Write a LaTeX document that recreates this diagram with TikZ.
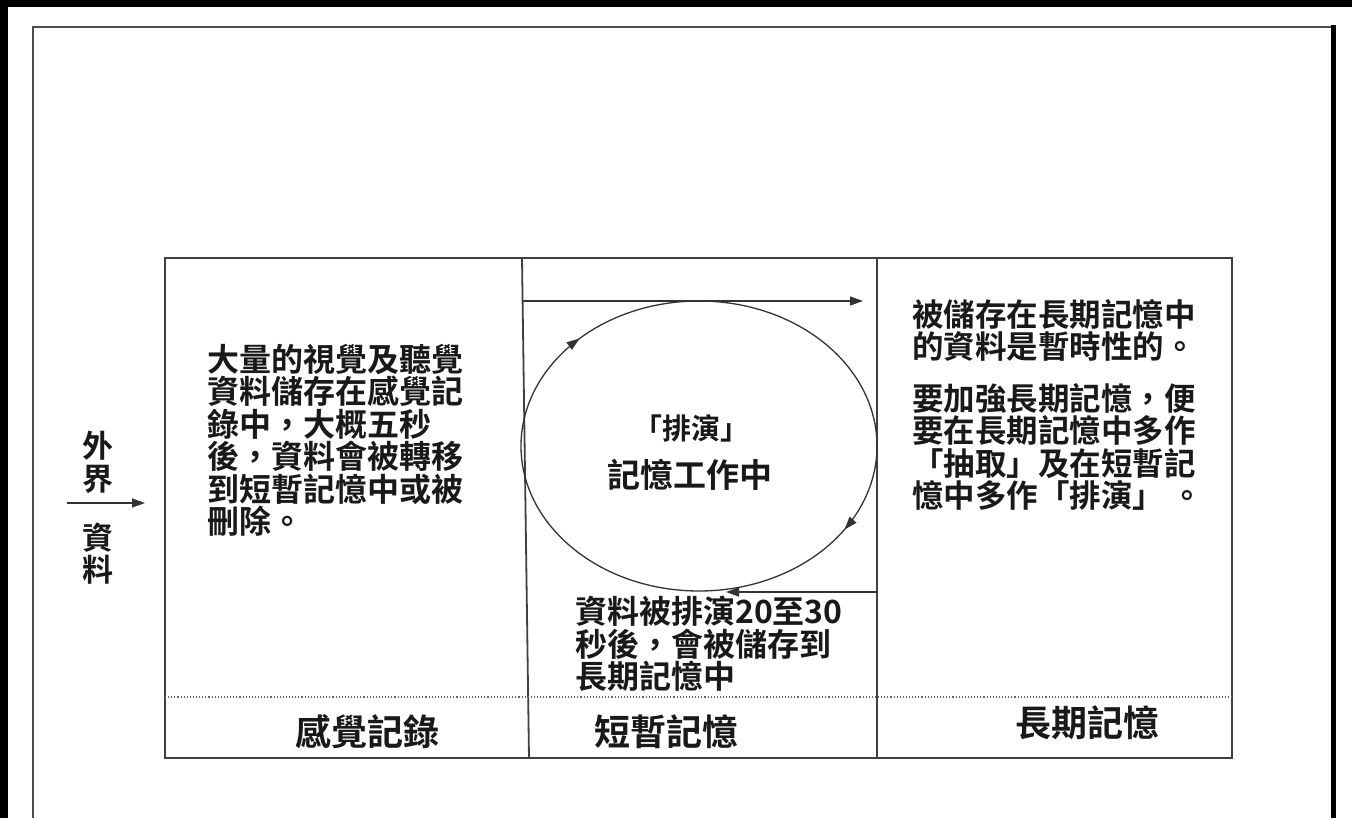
\documentclass[tikz,border=0pt]{standalone}
\usepackage{fontspec}
\newfontfamily\cjkb{Noto Sans CJK TC Bold}
\usetikzlibrary{arrows.meta,decorations.markings}
\tikzset{
  boxline/.style={draw=black!75, line width=1.8pt},
  thinline/.style={draw=black!80, line width=1.3pt},
  tip/.style={-{Triangle[length=13pt,width=9pt]}},
  body/.style={inner sep=0pt, anchor=north west, align=left, text=black!90,
    font=\cjkb\fontsize{32}{32.5}\selectfont},
  bodyr/.style={body, font=\cjkb\fontsize{31.5}{32.5}\selectfont},
  label/.style={inner sep=0pt, text=black!90, font=\cjkb\fontsize{36}{36}\selectfont},
  side/.style={inner sep=0pt, text=black!90, font=\cjkb\fontsize{31}{31}\selectfont},
  loop/.style={thinline, postaction={decorate}, decoration={markings,
    mark=at position 0.125 with {\arrow{Triangle[length=13pt,width=9pt]}},
    mark=at position 0.59 with {\arrow{Triangle[length=13pt,width=9pt]}}}}
}
\begin{document}
\begin{tikzpicture}[x=1pt,y=-1pt]
\useasboundingbox (0,0) rectangle (1352,818);
% page frame
\fill[black] (0,0) rectangle (1352,7);
\fill[black] (0,0) rectangle (8,818);
\draw[draw=black!70, line width=1.6pt] (33,818) -- (33,27) -- (1333,27);
\draw[black, line width=5pt] (1333,25) -- (1333,818);
% main box
\coordinate (TL) at (165,258);
\coordinate (BR) at (1232,758);
\draw[boxline] (TL) rectangle (BR);
\coordinate (d1t) at (522,258);
\coordinate (d1b) at (529,758);
\coordinate (d2t) at (877,258);
\coordinate (d2b) at (877,758);
\draw[boxline] (d1t) -- (d1b);
\draw[boxline] (d2t) -- (d2b);
\coordinate (dotL) at (165,697);
\coordinate (dotR) at (1232,697);
\draw[draw=black!60, line width=1.1pt, dotted] (dotL) -- (dotR);
% top arrow
\coordinate (a1s) at (523,301);
\coordinate (a1e) at (863,301);
\draw[thinline, tip] (a1s) -- (a1e);
% rehearsal loop (clockwise)
\coordinate (cc) at (699,446);
\draw[loop] (521,446) arc[start angle=180, end angle=540, x radius=178, y radius=145];
% bottom return arrow
\coordinate (a2s) at (877,592);
\coordinate (a2e) at (726,592);
\draw[thinline, tip] (a2s) -- (a2e);
% circle text
\node[inner sep=0pt, text=black!90, font=\cjkb\fontsize{29}{31}\selectfont] (reh) at (691,428) {「排演」};
\node[inner sep=0pt, text=black!90, font=\cjkb\fontsize{33}{33}\selectfont] (work) at (690,475) {記憶工作中};
% texts
\node[body] (sens) at (207,344) {大量的視覺及聽覺\\資料儲存在感覺記\\錄中，大概五秒\\後，資料會被轉移\\到短暫記憶中或被\\刪除。};
\node[body] (mid) at (575,596) {資料被排演20至30\\秒後，會被儲存到\\長期記憶中};
\node[bodyr] (r1) at (912,299) {被儲存在長期記憶中\\的資料是暫時性的。};
\node[bodyr] (r2) at (912,383) {要加強長期記憶，便\\要在長期記憶中多作\\「抽取」及在短暫記\\憶中多作「排演」 。};
% column labels
\node[label] (l1) at (367,732) {感覺記錄};
\node[label] (l2) at (666,732) {短暫記憶};
\node[label] (l3) at (1087,723) {長期記憶};
% external input
\node[side] (w1) at (98,446) {外};
\node[side] (w2) at (98,479) {界};
\node[side] (w3) at (98,538) {資};
\node[side] (w4) at (98,570) {料};
\coordinate (inS) at (67,503);
\coordinate (inE) at (145,503);
\draw[thinline, tip] (inS) -- (inE);
\end{tikzpicture}
\end{document}
